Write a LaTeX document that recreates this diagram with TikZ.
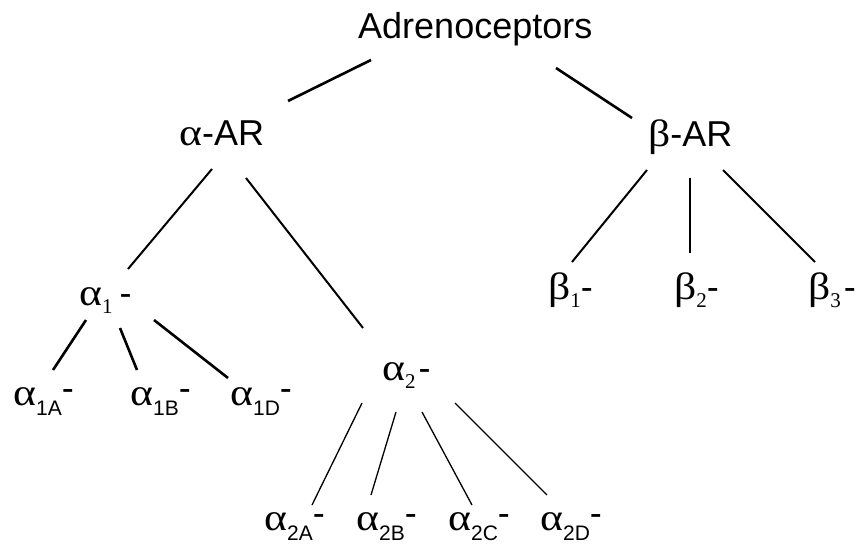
\documentclass[tikz,border=0pt]{standalone}
\usepackage{graphicx}
\usepackage{fontspec}
\setmainfont{Liberation Sans}
\newfontfamily\grkfont{Liberation Serif}
\usetikzlibrary{positioning}

% greek letter and the two kinds of subscript
\newcommand\gk[1]{\scalebox{1.15}[1]{\grkfont\fontsize{38}{40}\selectfont #1}}
\newcommand\serifsub[1]{\raisebox{-8pt}{\grkfont\fontsize{21}{21}\selectfont #1}}
\newcommand\sanssub[1]{\raisebox{-10pt}{\fontsize{21}{21}\selectfont #1}}

\begin{document}
\begin{tikzpicture}[
    x=1pt, y=-1pt,
    lbl/.style={anchor=base west, inner sep=0pt, font=\fontsize{36}{40}\selectfont},
    thickedge/.style={line width=2.6pt},
    edge/.style={line width=2pt},
    thinedge/.style={line width=1.3pt}
  ]
  \useasboundingbox (0,0) rectangle (856,545);

  \node[lbl, font=\fontsize{36}{40}\selectfont] (root) at (358,39) {Adrenoceptors};
  \node[lbl] (aAR) at (179,146) {\gk{α}-AR};
  \node[lbl] (bAR) at (648,147) {\gk{β}-AR};

  \node[lbl] (a1) at (79,305) {\gk{α}\serifsub{1}\hspace{7pt}-};
  \node[lbl] (a2) at (382,380) {\gk{α}\serifsub{2}\hspace{3pt}-};
  \node[lbl] (b1) at (548,299) {\gk{β}\serifsub{1}-};
  \node[lbl] (b2) at (674,299) {\gk{β}\serifsub{2}-};
  \node[lbl] (b3) at (808,299) {\gk{β}\serifsub{3}\hspace{3pt}-};

  \node[lbl] (a1A) at (13,405) {\gk{α}\sanssub{1A}\raisebox{5pt}{-}};
  \node[lbl] (a1B) at (130,405) {\gk{α}\sanssub{1B}\raisebox{5pt}{-}};
  \node[lbl] (a1D) at (230,405) {\gk{α}\sanssub{1D}\raisebox{5pt}{-}};

  \node[lbl] (a2A) at (264,530) {\gk{α}\sanssub{2A}\raisebox{5pt}{-}};
  \node[lbl] (a2B) at (356,530) {\gk{α}\sanssub{2B}\raisebox{5pt}{-}};
  \node[lbl] (a2C) at (448,530) {\gk{α}\sanssub{2C}\raisebox{5pt}{-}};
  \node[lbl] (a2D) at (540,530) {\gk{α}\sanssub{2D}\raisebox{5pt}{-}};

  % branches, ends given from each label's base west
  \foreach \a/\ax/\ay/\b/\bx/\by in {root/13/21/aAR/109/-45, root/198/29/bAR/-16/-29}
    \draw[thickedge] ([shift={(\ax,\ay)}]\a.base west) -- ([shift={(\bx,\by)}]\b.base west);
  \foreach \a/\ax/\ay/\b/\bx/\by in {aAR/33/23/a1/49/-36, aAR/67/32/a2/-19/-52,
      bAR/-1/23/b1/24/-37, bAR/42/31/b2/16/-46, bAR/75/23/b3/7/-37}
    \draw[edge] ([shift={(\ax,\ay)}]\a.base west) -- ([shift={(\bx,\by)}]\b.base west);
  \foreach \a/\ax/\ay/\b/\bx/\by in {a1/7/15/a1A/40/-35, a1/41/23/a1B/7/-35, a1/75/15/a1D/-2/-27}
    \draw[thickedge] ([shift={(\ax,\ay)}]\a.base west) -- ([shift={(\bx,\by)}]\b.base west);
  \foreach \a/\ax/\ay/\b/\bx/\by in {a2/-20/23/a2A/48/-25, a2/14/32/a2B/15/-35,
      a2/40/32/a2C/24/-25, a2/73/23/a2D/7/-35}
    \draw[thinedge] ([shift={(\ax,\ay)}]\a.base west) -- ([shift={(\bx,\by)}]\b.base west);
\end{tikzpicture}
\end{document}
